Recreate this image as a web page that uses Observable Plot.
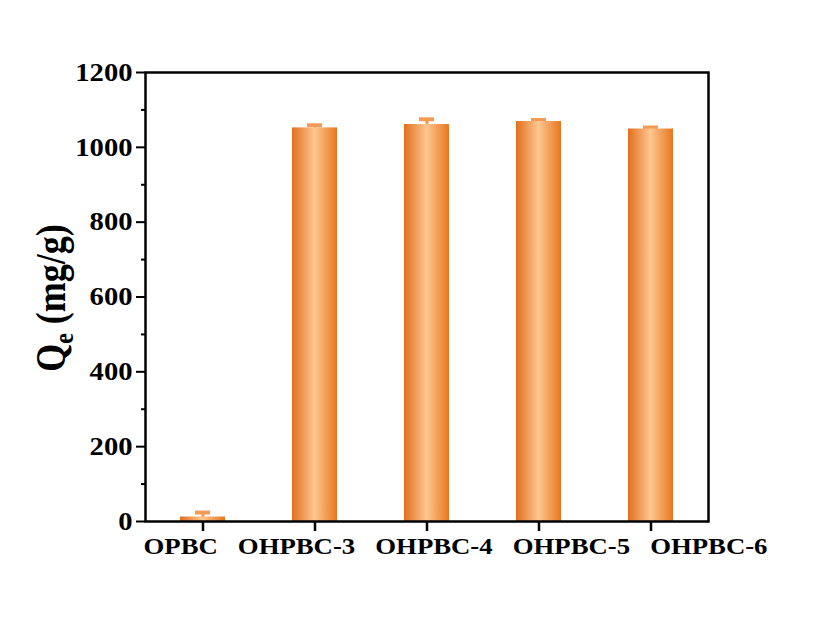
<!DOCTYPE html>
<html>
<head>
<meta charset="utf-8">
<script src="https://cdn.jsdelivr.net/npm/d3@7"></script>
<script src="https://cdn.jsdelivr.net/npm/@observablehq/plot@0.6"></script>
<style>
  html, body { margin: 0; padding: 0; background: #ffffff; }
  #chart { width: 817px; height: 631px; }
</style>
</head>
<body>
<div id="chart"></div>
<script>
const categories = ["OPBC", "OHPBC-3", "OHPBC-4", "OHPBC-5", "OHPBC-6"];
const qeValues = [12, 1052, 1061, 1069, 1049];
const qeErrors = [12, 7, 14, 4, 4];
const majorTicks = [0, 200, 400, 600, 800, 1000, 1200];
const minorTicks = [100, 300, 500, 700, 900, 1100];

const data = categories.map((c, i) => ({cat: c, qe: qeValues[i], err: qeErrors[i]}));
const labelRow = categories.join("\u00A0\u00A0\u00A0");
const errColor = "#f39b55";

const svg = Plot.plot({
  width: 817,
  height: 631,
  marginLeft: 145,
  marginRight: 109,
  marginTop: 72,
  marginBottom: 110,
  style: {fontFamily: "'Liberation Serif', 'Times New Roman', serif", fontWeight: "bold", fontSize: "24px", color: "black", background: "white"},
  x: {domain: categories, paddingInner: 0.6, paddingOuter: 0.3, label: null},
  y: {domain: [0, 1200], label: null},
  marks: [
    Plot.ruleX(data, {x: "cat", y1: d => d.qe - d.err, y2: d => d.qe + d.err, stroke: errColor, strokeWidth: 3}),
    Plot.tickY(data, {x: "cat", y: d => d.qe + d.err, stroke: errColor, strokeWidth: 4, insetLeft: 15, insetRight: 15}),
    Plot.barY(data, {x: "cat", y: "qe", fill: "url(#barGrad)"}),
    Plot.axisY(minorTicks, {tickSize: 4, tickFormat: () => "", strokeWidth: 2, label: null}),
    Plot.axisY(majorTicks, {tickSize: 9, tickPadding: 4, strokeWidth: 2, fontSize: 26, tickFormat: d => String(d), label: null}),
    Plot.axisX({tickSize: 10, tickFormat: () => "", strokeWidth: 2.5, label: null}),
    Plot.text([labelRow], {text: d => d, frameAnchor: "bottom-left", textAnchor: "start", lineAnchor: "middle", dx: -2, dy: 25, fontSize: 24, fontWeight: "bold", fill: "black"}),
    Plot.frame({strokeWidth: 2.5})
  ]
});

const sel = d3.select(svg);
const grad = sel.insert("defs", ":first-child").append("linearGradient")
  .attr("id", "barGrad").attr("x1", "0").attr("x2", "1").attr("y1", "0").attr("y2", "0");
grad.append("stop").attr("offset", "0%").attr("stop-color", "#e36f1c");
grad.append("stop").attr("offset", "50%").attr("stop-color", "#fec690");
grad.append("stop").attr("offset", "100%").attr("stop-color", "#e7761f");

document.getElementById("chart").appendChild(svg);

// horizontally stretched lettering as in the reference
sel.selectAll("text").each(function() {
  const len = this.getComputedTextLength();
  if (len > 0) {
    const target = this.textContent === labelRow ? 624 : len * 1.1;
    this.setAttribute("textLength", target.toFixed(1));
    this.setAttribute("lengthAdjust", "spacingAndGlyphs");
  }
});

// Y-axis title with subscript
const title = sel.append("text")
  .attr("transform", "translate(65,298) scale(1.15,1) rotate(-90)")
  .attr("text-anchor", "middle")
  .attr("font-size", "36px")
  .attr("font-weight", "bold")
  .attr("fill", "black");
title.append("tspan").text("Q");
title.append("tspan").attr("font-size", "24px").attr("dy", "7").text("e");
title.append("tspan").attr("dy", "-7").text(" (mg/g)");
</script>
</body>
</html>
